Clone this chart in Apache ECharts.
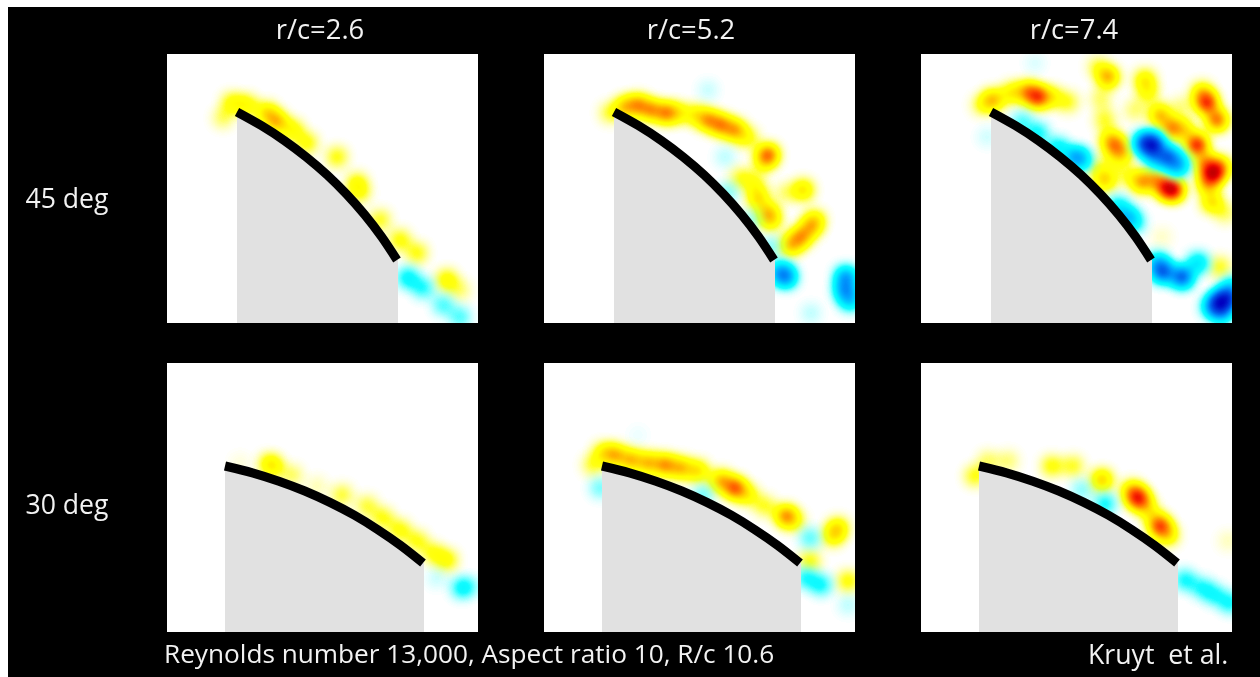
<!DOCTYPE html>
<html><head><meta charset="utf-8">
<style>html,body{margin:0;padding:0;background:#fff}#c{width:1260px;height:677px}</style>
<script src="https://cdn.jsdelivr.net/npm/echarts@6/dist/echarts.min.js"></script>
</head><body><div id="c"></div>
<script>
// Vorticity samples per panel: [x, y, strength]; positive = hot, negative = cold
const deg45r26 = [[65,49,.28],[56,64,.16],[80,51,.3],[100,59,.4],[110,68,.5],[126,76,.3],[140,89,.26],[170,103,.24],[190,129,.26],[193,139,.2],[213,166,.22],[233,186,.26],[250,199,.24],[280,226,.3],[293,236,.14],
 [241,224,-.28],[256,234,-.22],[276,251,-.18],[293,263,-.18]];
const deg45r52 = [[66,59,.2],[81,53,.45],[94,51,.55],[107,56,.55],[122,59,.6],[134,59,.3],[151,61,.3],[164,66,.55],[177,71,.6],[191,76,.55],[204,84,.25],[224,101,.7],[219,109,.2],[197,124,.22],[211,129,.22],[214,144,.4],[224,159,.4],[227,166,.3],[259,136,.4],[241,139,.14],[271,166,.3],[257,183,.55],[247,191,.45],[267,173,.4],
 [242,223,-.55],[236,218,-.4],[302,223,-.55],[301,236,-.5],[306,246,-.4],[181,103,-.07],[164,36,-.06],[184,138,-.12],[207,166,-.1],[227,193,-.12],[267,259,-.07]];
const deg45r74 = [[61,51,.2],[72,46,.5],[91,39,.35],[107,38,.55],[117,43,.8],[131,43,.3],[147,48,.22],[187,23,.55],[177,13,.18],[180,45,.16],[224,26,.35],[227,39,.25],[184,66,.22],[194,91,.5],[189,86,.3],[201,99,.4],[184,126,.45],[221,128,.55],[234,124,.4],[252,136,.95],[244,133,.7],[207,121,.2],[239,61,.5],[251,74,.6],[264,76,.35],[276,91,.9],[286,49,.85],[296,66,.7],[281,39,.4],[284,109,.5],[292,119,1],[299,113,.5],[287,129,.5],[291,148,.4],[304,159,.16],[299,213,.22],[241,183,.06],[261,53,.14],[214,56,.15],[191,109,.15],[174,113,.16],
 [154,103,-.45],[137,94,-.3],[117,79,-.25],[101,68,-.18],[161,106,-.3],[232,91,-.95],[224,89,-.7],[247,103,-.7],[257,111,-.5],[234,103,-.4],[207,163,-.4],[197,153,-.3],[214,169,-.2],[242,218,-.75],[261,223,-.8],[277,209,-.35],[237,209,-.4],[299,249,-.95],[306,244,-.8],[291,253,-.4],[301,259,-.4],[311,233,-.3],[66,83,-.05],[114,9,-.04]];
const deg30r26 = [[106,103,.3],[101,100,.15],[125,112,.16],[150,123,.08],[175,132,.2],[200,143,.2],[216,155,.24],[233,167,.26],[250,178,.24],[266,190,.24],[280,197,.28],[73,100,.04],
 [295,225,-.26],[305,223,-.08],[270,215,-.06]];
const deg30r52 = [[49,102,.2],[59,90,.3],[71,92,.5],[87,97,.5],[104,100,.5],[121,102,.6],[137,105,.5],[154,108,.4],[177,118,.5],[191,125,.75],[204,132,.3],[221,143,.22],[242,153,.6],[251,158,.2],[294,165,.35],[289,173,.3],[266,198,.24],[304,218,.26],
 [56,125,-.14],[159,132,-.14],[266,175,-.16],[262,215,-.22],[277,222,-.24],[304,242,-.07],[94,72,-.02]];
const deg30r74 = [[54,113,.24],[67,98,.16],[87,98,.14],[131,103,.26],[152,103,.22],[181,117,.45],[217,135,.85],[211,128,.4],[224,142,.3],[239,163,.8],[247,172,.35],[231,152,.2],[307,178,.07],
 [184,141,-.24],[161,127,-.12],[264,217,-.24],[281,225,-.22],[294,232,-.22],[309,240,-.24]];
// Wing section outlines in panel units
const arc45 = [[70,58],[94.5,71.7],[117.6,86.7],[139.5,103.2],[160.2,121],[179.5,140.2],[197.6,160.7],[214.5,182.7],[230,206]];
const arc30 = [[58,103],[85.4,109.8],[111.9,118.2],[137.8,128],[162.9,139.4],[187.3,152.2],[210.9,166.7],[233.9,182.6],[256,200]];
const columnLabels = ['r/c=2.6','r/c=5.2','r/c=7.4'];
const rowLabels = ['45 deg','30 deg'];
const footLabel = 'Reynolds number 13,000, Aspect ratio 10, R/c 10.6';
const creditLabel = 'Kruyt  et al.';

const PW = 311, PH = 269;
const colX = [167,544,921], rowY = [54,363], titleX = [320,691,1074];
const panels = [
 {c:0,r:0,d:deg45r26,a:arc45},{c:1,r:0,d:deg45r52,a:arc45},{c:2,r:0,d:deg45r74,a:arc45},
 {c:0,r:1,d:deg30r26,a:arc30},{c:1,r:1,d:deg30r52,a:arc30},{c:2,r:1,d:deg30r74,a:arc30}];
echarts.registerMap('panel',{type:'FeatureCollection',features:[{type:'Feature',properties:{name:'p'},geometry:{type:'Polygon',coordinates:[[[0,0],[PW,0],[PW,PH],[0,PH],[0,0]]]}}]});
const txt = (x,y,t,size,align)=>({type:'text',z:10,silent:true,style:{x,y,text:t,fill:'#f2f2f2',font:size+'px "Open Sans"',textAlign:align||'center',textVerticalAlign:'middle'}});
const geos = panels.map(p=>({map:'panel',silent:true,left:colX[p.c],top:rowY[p.r],width:PW,height:PH,
  projection:{project:q=>q,unproject:q=>q},label:{show:false},
  itemStyle:{areaColor:'#fff',borderWidth:0},emphasis:{disabled:true},select:{disabled:true},tooltip:{show:false}}));
const heat = (sign)=>panels.map((p,i)=>({type:'heatmap',coordinateSystem:'geo',geoIndex:i,pointSize:9,blurSize:14,minOpacity:0,maxOpacity:7,z:2,silent:true,
  data:p.d.filter(q=>q[2]*sign>0).map(q=>[q[0],q[1],Math.abs(q[2])])}));
const wings = panels.map((p,i)=>({type:'custom',coordinateSystem:'geo',geoIndex:i,z:4,silent:true,data:[[p.a[0][0],p.a[0][1]]],
  renderItem:(params,api)=>{
    const pts=p.a.map(q=>api.coord(q));
    const last=p.a[p.a.length-1], first=p.a[0];
    const poly=pts.concat([api.coord([last[0]+1,last[1]]),api.coord([last[0]+1,PH]),api.coord([first[0],PH])]);
    return {type:'group',children:[
      {type:'polygon',shape:{points:poly},style:{fill:'#e1e1e1'}},
      {type:'polyline',shape:{points:pts,smooth:.3},style:{stroke:'#000',lineWidth:9,fill:null,lineCap:'butt'}}]};
  }}));
const hotRamp = ['#ffff40','#ffff30','#ffff20','#ffff10','#ffff00','#ffe800','#ffd000','#ffb000','#ff9000','#ff7000','#ff5000','#f83000','#f01000','#dc0000','#c80000','#b40000','#a00000','#900000','#800000','#700000','#600000'];
const coldRamp = ['#40ffff','#30ffff','#20ffff','#10faff','#00f4ff','#00dcff','#00c4ff','#00acff','#0094fc','#007cf4','#0064ec','#0050e4','#003cdc','#0028d4','#0014c8','#0000c0','#0000b0','#0000a0','#000090','#000080','#000070'];
const option = {
  animation:false,backgroundColor:'#fff',
  geo:geos,
  visualMap:[
   {show:false,type:'continuous',min:0,max:1,dimension:2,seriesIndex:[0,1,2,3,4,5],inRange:{color:hotRamp}},
   {show:false,type:'continuous',min:0,max:1,dimension:2,seriesIndex:[6,7,8,9,10,11],inRange:{color:coldRamp}}],
  series:[...heat(1),...heat(-1),...wings],
  graphic:[{type:'rect',z:-10,silent:true,shape:{x:8,y:7,width:1252,height:670},style:{fill:'#000'}},
    ...columnLabels.map((t,i)=>txt(titleX[i],31,t,27.4)),
    ...rowLabels.map((t,i)=>txt(67,[200,506][i],t,26.6)),
    txt(164,656,footLabel,26.2,'left'),txt(1088,656,creditLabel,26.7,'left')]
};
echarts.init(document.getElementById('c')).setOption(option);
</script></body></html>
